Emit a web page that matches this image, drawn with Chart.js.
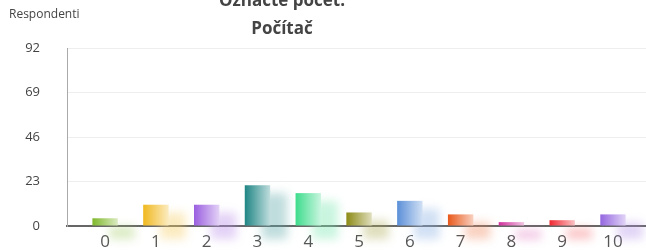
<!DOCTYPE html>
<html>
<head>
<meta charset="utf-8">
<script src="https://cdn.jsdelivr.net/npm/chart.js@4"></script>
<style>
  html, body { margin: 0; padding: 0; background: #fff; }
  #wrap { width: 646px; height: 252px; position: relative; }
</style>
</head>
<body>
<div id="wrap"><canvas id="c" width="646" height="252"></canvas></div>
<script>
// values
const categories = ['0', '1', '2', '3', '4', '5', '6', '7', '8', '9', '10'];
const respondents = [4, 11, 11, 21, 17, 7, 13, 6, 2, 3, 6];
const yTicks = [0, 23, 46, 69, 92];
const barColors = ['#7fb82a', '#f0b81e', '#9a5ee0', '#1f8585', '#3ddc8c', '#8c8a14',
                   '#5b8fd8', '#e8581a', '#d0309c', '#f02830', '#9466e0'];
const titleLines = ['Označte počet:', 'Počítač'];
const yAxisName = 'Respondenti';

const FONT = '"Open Sans", "DejaVu Sans", sans-serif';
const BAR_RATIO = 0.5;

function tint(hex, a) {
    const n = parseInt(hex.slice(1), 16);
    const r = n >> 16, g = (n >> 8) & 255, b = n & 255;
    return `rgba(${r},${g},${b},${a})`;
}
function lighten(hex, k) {
    const n = parseInt(hex.slice(1), 16);
    const r = n >> 16, g = (n >> 8) & 255, b = n & 255;
    const m = c => Math.round(c + (255 - c) * k);
    return '#' + [m(r), m(g), m(b)].map(c => c.toString(16).padStart(2, '0')).join('');
}

// horizontal gradient per bar, saturated on the left
function barFill(ctx) {
    const chart = ctx.chart;
    const xs = chart.scales.x;
    const col = barColors[ctx.dataIndex] || barColors[0];
    if (!xs) return col;
    const cx = xs.getPixelForValue(ctx.dataIndex);
    const w = (xs.getPixelForValue(1) - xs.getPixelForValue(0)) * BAR_RATIO;
    if (!isFinite(cx) || !isFinite(w)) return col;
    const g = chart.ctx.createLinearGradient(cx - w / 2, 0, cx + w / 2, 0);
    g.addColorStop(0, col);
    g.addColorStop(1, lighten(col, 0.72));
    return g;
}

// soft blurred shadow to the lower right of each bar
const barShadows = {
    id: 'barShadows',
    beforeDatasetsDraw(chart) {
        const { ctx } = chart;
        const base = chart.scales.y.getPixelForValue(0);
        ctx.save();
        ctx.filter = 'blur(5px)';
        chart.getDatasetMeta(0).data.forEach((bar, i) => {
            const w = bar.width;
            const top = bar.y + 8;
            ctx.fillStyle = tint(lighten(barColors[i], 0.3), 0.4);
            ctx.fillRect(bar.x - w / 2 + 17, top, w, base + 13 - top);
        });
        ctx.restore();
    }
};

const headerText = {
    id: 'headerText',
    afterDraw(chart) {
        const { ctx } = chart;
        ctx.save();
        ctx.fillStyle = '#444';
        ctx.textAlign = 'center';
        ctx.textBaseline = 'alphabetic';
        ctx.font = 'bold 17px ' + FONT;
        ctx.fillText(titleLines[0], 282, 6);
        ctx.fillText(titleLines[1], 282, 34);
        ctx.textAlign = 'left';
        ctx.textBaseline = 'middle';
        ctx.font = '12px ' + FONT;
        ctx.fillText(yAxisName, 9, 15);
        ctx.restore();
    }
};

const chart = new Chart(document.getElementById('c'), {
    type: 'bar',
    data: {
        datasets: [{
            data: respondents.map((v, i) => ({ x: i, y: v })),
            backgroundColor: barFill,
            borderWidth: 0,
            barPercentage: 1,
            categoryPercentage: BAR_RATIO
        }]
    },
    options: {
        responsive: false,
        animation: false,
        layout: { padding: { top: 48, left: 0, right: 0, bottom: 0 } },
        plugins: { legend: { display: false }, tooltip: { enabled: false }, title: { display: false } },
        scales: {
            x: {
                type: 'linear',
                offset: false,
                min: -0.75,
                max: 10.65,
                afterBuildTicks: s => { s.ticks = categories.map((_, i) => ({ value: i })); },
                afterFit: s => { s.height = 26; },
                ticks: {
                    callback: v => categories[v],
                    autoSkip: false,
                    maxRotation: 0,
                    padding: 6,
                    color: '#555',
                    font: { family: FONT, size: 17 }
                },
                grid: { display: false, drawTicks: false },
                border: { color: '#666', width: 2 }
            },
            y: {
                min: 0,
                max: 92,
                afterBuildTicks: s => { s.ticks = yTicks.map(v => ({ value: v })); },
                afterFit: s => { s.width = 67; s.paddingTop = 0; s.paddingBottom = 0; },
                ticks: {
                    padding: 27,
                    color: '#444',
                    font: { family: FONT, size: 13 }
                },
                grid: { color: '#eeeeee', drawTicks: false },
                border: { color: '#aaa', width: 1 }
            }
        }
    },
    plugins: [barShadows, headerText]
});
// second pass so the gradients are built with the final scale positions
chart.update('none');
</script>
</body>
</html>
